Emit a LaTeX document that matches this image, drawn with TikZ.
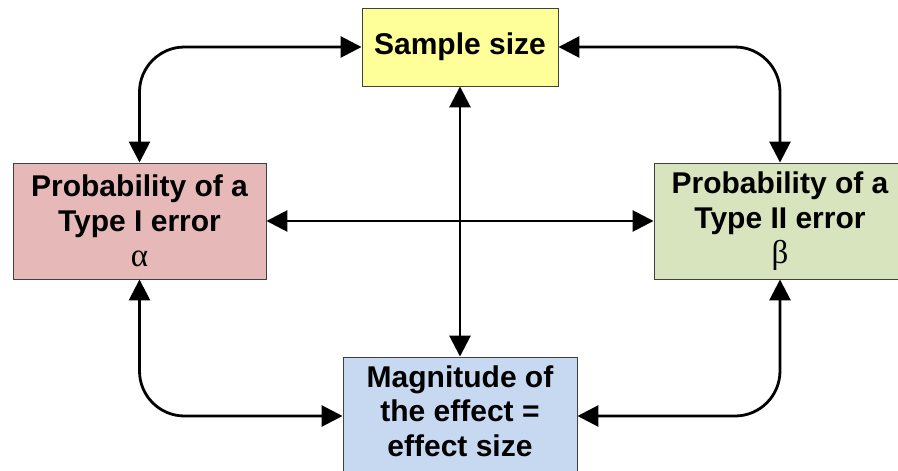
\documentclass[tikz,border=0pt]{standalone}
\usepackage{fontspec}
\setmainfont{Liberation Sans}
\newfontfamily\grk{Liberation Serif}
\usetikzlibrary{arrows.meta}
\definecolor{cyellow}{RGB}{255,255,153}
\definecolor{cpink}{RGB}{230,185,184}
\definecolor{cgreen}{RGB}{215,228,189}
\definecolor{cblue}{RGB}{198,217,241}
\definecolor{cborder}{RGB}{64,64,64}
\begin{document}
\begin{tikzpicture}[x=1pt,y=-1pt,
  box/.style={draw=cborder, line width=0.9pt, inner sep=0pt, align=center,
    font=\fontsize{30}{35}\selectfont\bfseries},
  txt/.style={inner sep=0pt, align=center, font=\fontsize{30}{34.5}\selectfont\bfseries},
  conn/.style={line width=2.8pt, rounded corners=45pt,
    {Triangle[length=21pt,width=21pt]}-{Triangle[length=21pt,width=21pt]}}]
\useasboundingbox (0,0) rectangle (898,471);
\clip (0,0) rectangle (898,471);

\node[box, fill=cyellow, minimum width=196pt, minimum height=78pt] (ss) at (460,47) {Sample size};
\node[box, fill=cpink, minimum width=253pt, minimum height=116pt] (p1) at (139.5,221)
  {Probability of a\\Type I error\\{\grk\mdseries\fontsize{33}{35}\selectfont α}};
\node[box, fill=cgreen, minimum width=252pt, minimum height=116pt] (p2) at (780,221)
  {Probability of a\\Type II error\\{\grk\mdseries\fontsize{33}{35}\selectfont β}};
\node[box, fill=cblue, minimum width=234pt, minimum height=118pt] (mag) at (460,416) {};
\node[txt] (magt) at (460,411) {Magnitude of\\the effect =\\effect size};

\draw[conn] (ss.west) -| (p1.north);
\draw[conn] (ss.east) -| (p2.north);
\draw[conn] (p1.south) |- (mag.west);
\draw[conn] (p2.south) |- (mag.east);
\draw[conn] (ss.south) -- (mag.north);
\draw[conn] (p1.east) -- (p2.west);
\end{tikzpicture}
\end{document}
